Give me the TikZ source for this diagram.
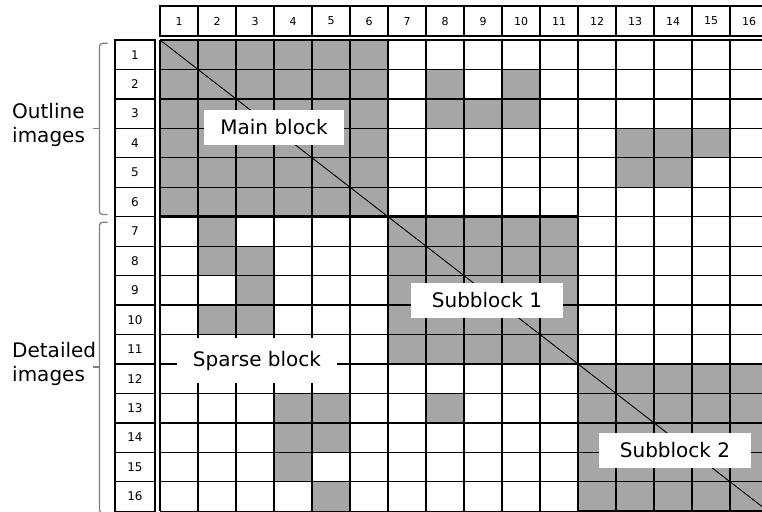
\documentclass[tikz,border=0pt]{standalone}
\usepackage{fontspec}
\setmainfont{DejaVu Sans}
\usepackage{xcolor}
\usetikzlibrary{positioning}
\definecolor{cellgray}{HTML}{A6A6A6}
\definecolor{bracegray}{HTML}{808080}

\begin{document}
\begin{tikzpicture}[x=1pt, y=-1pt,
    gridline/.style={draw=black, line width=1.3pt},
    blockline/.style={draw=black, line width=2.8pt},
    numcell/.style={draw=black, line width=1.3pt, fill=white, inner sep=0pt, font=\fontsize{11}{13}\selectfont},
    tag/.style={fill=white, inner sep=0pt, minimum height=35pt, font=\fontsize{20}{24}\selectfont},
    side/.style={inner sep=0pt, align=left, anchor=west, font=\fontsize{20}{24}\selectfont},
    bracket/.style={draw=bracegray, line width=1.3pt, rounded corners=3pt}]
\useasboundingbox (0,0) rectangle (762,511);
\clip (0,0) rectangle (762,511);
% header row and row labels
\foreach \c in {1,...,16}
    \node[numcell, minimum width=38pt, minimum height=30pt] (col\c) at ({160+38*(\c-0.5)},21) {\c};
\foreach \r in {1,...,16}
    \node[numcell, minimum width=40pt, minimum height=29.45pt, font=\fontsize{12}{14}\selectfont] (row\r) at (135,{40+29.45*(\r-0.5)}) {\r};
% shaded blocks and single cells
\fill[cellgray] (160,40) rectangle (388,216.7);
\fill[cellgray] (388,216.7) rectangle (578,364);
\fill[cellgray] (578,364) rectangle (768,511.2);
\foreach \r/\c in {2/8,2/10,3/8,3/9,3/10,4/13,4/14,4/15,5/13,5/14,7/2,8/2,8/3,9/3,10/2,10/3,13/4,13/5,13/8,14/4,14/5,15/4,16/5}
    \fill[cellgray] ({160+38*(\c-1)},{40+29.45*(\r-1)}) rectangle ++(38,29.45);
% grid
\foreach \i in {0,...,16} {
    \draw[gridline] ({160+38*\i},40) -- ({160+38*\i},511.2);
    \draw[gridline] (160,{40+29.45*\i}) -- (768,{40+29.45*\i});
}
\coordinate (topleft) at (160,40);
\coordinate (botright) at (768,511.2);
\draw[line width=0.9pt] (topleft) -- (botright);
% block borders
\draw[blockline] (160,40) -- (388,40);
\draw[blockline] (160,216.7) -- (388,216.7);
\draw[blockline] (388,216.7) rectangle (578,364);
\draw[blockline] (578,364) rectangle (768,511.2);
% block labels
\node[tag, minimum width=140pt] (mainlbl) at (274,127.5) {Main block};
\node[tag, minimum width=152pt] (sub1lbl) at (487,300) {Subblock 1};
\node[tag, minimum width=152pt] (sub2lbl) at (675,450.3) {Subblock 2};
\node[tag, minimum width=160pt, minimum height=45pt] (sparselbl) at (257,360.5) {Sparse block};
% image groups
\node[side] (outline) at (12,125) {Outline\\images};
\node[side] (detailed) at (12,364) {Detailed\\images};
\draw[bracket] (107.5,43.3) -- (99.5,43.3) -- (99.5,214.5) -- (107.5,214.5);
\draw[bracegray, line width=1.3pt] (99.5,128.5) -- (93,128.5);
\draw[bracket] (107.5,222.3) -- (99.5,222.3) -- (99.5,513) -- (107.5,513);
\draw[bracegray, line width=1.3pt] (99.5,367) -- (93,367);
\end{tikzpicture}
\end{document}
